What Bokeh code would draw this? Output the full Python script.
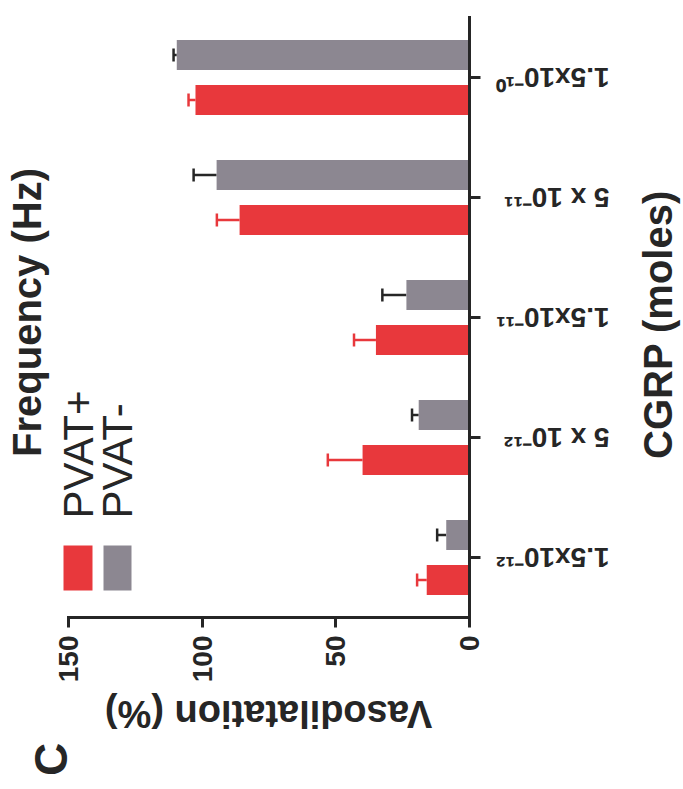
import math
from bokeh.plotting import figure
from bokeh.models import (Range1d, FixedTicker, Label, Whisker, TeeHead, LinearAxis,
                          ColumnDataSource, BoxAnnotation)
from bokeh.transform import dodge
from bokeh.embed import file_html
from bokeh.resources import INLINE

# ---- data ----
categories = ["1.5x10⁻¹²", "5 x 10⁻¹²", "1.5x10⁻¹¹", "5 x 10⁻¹¹", "1.5x10⁻¹⁰"]
pvat_plus = [16.0, 40.0, 35.0, 86.0, 102.5]
pvat_plus_err = [3.6, 13.0, 8.2, 8.5, 2.6]
pvat_minus = [8.7, 19.0, 23.6, 94.6, 109.5]
pvat_minus_err = [3.4, 2.5, 9.0, 8.6, 1.2]
x_ticks = [0, 50, 100, 150]
series_names = ["PVAT+", "PVAT-"]

RED = "#e8383c"
GRAY = "#8c8791"
INK = "#262626"
FONT = "Liberation Sans"

W, H = 683, 789
n = len(categories)
pos = [i + 0.5 for i in range(n)]          # category slots on the y scale

src = ColumnDataSource(dict(
    pos=pos,
    plus=pvat_plus,
    plus_hi=[v + e for v, e in zip(pvat_plus, pvat_plus_err)],
    minus=pvat_minus,
    minus_hi=[v + e for v, e in zip(pvat_minus, pvat_minus_err)],
))

# frame = whole canvas; value axis 150 -> px 68, 0 -> px 469 ; categories 120 px each
kx = (469 - 68) / 150.0
x_start = 150 + 68 / kx
x_end = -(W - 469) / kx
y_start = -(H - 617) / 120.0
y_end = n + 17 / 120.0

p = figure(width=W, height=H, output_backend="svg", toolbar_location=None,
           x_range=Range1d(x_start, x_end), y_range=Range1d(y_start, y_end),
           x_axis_location=None, y_axis_location=None,
           min_border=0, min_border_left=0, min_border_right=0,
           min_border_top=0, min_border_bottom=0)
p.outline_line_color = None
p.xgrid.visible = False
p.ygrid.visible = False
p.background_fill_color = "white"

off = 0.1875
bh = 0.25
p.hbar(y=dodge("pos", -off), left=0, right="plus", height=bh,
       source=src, fill_color=RED, line_color=None)
p.hbar(y=dodge("pos", off), left=0, right="minus", height=bh,
       source=src, fill_color=GRAY, line_color=None)

w1 = Whisker(base=dodge("pos", -off), lower="plus", upper="plus_hi",
             dimension="width", source=src, line_color=RED, line_width=2.5,
             lower_head=None, upper_head=TeeHead(size=13, line_color=RED, line_width=2.5))
w2 = Whisker(base=dodge("pos", off), lower="minus", upper="minus_hi",
             dimension="width", source=src, line_color=INK, line_width=2.5,
             lower_head=None, upper_head=TeeHead(size=13, line_color=INK, line_width=2.5))
p.add_layout(w1)
p.add_layout(w2)

xa = LinearAxis(fixed_location=0, bounds=(0, 150), ticker=FixedTicker(ticks=x_ticks))
ya = LinearAxis(fixed_location=0, bounds=(0, n), ticker=FixedTicker(ticks=pos),
                major_label_overrides={pv: c for pv, c in zip(pos, categories)})
p.add_layout(xa, "below")
p.add_layout(ya, "right")

for ax in (xa, ya):
    ax.axis_line_width = 3
    ax.axis_line_color = INK
    ax.axis_line_cap = "square"
    ax.major_tick_line_width = 3
    ax.major_tick_line_color = INK
    ax.major_tick_in = 0
    ax.minor_tick_line_color = None
    ax.major_label_text_font = FONT
    ax.major_label_text_font_style = "bold"
    ax.major_label_text_color = INK

xa.major_tick_out = 10
xa.major_label_standoff = 8
xa.major_label_orientation = math.pi / 2
xa.major_label_text_font_size = "28px"

ya.major_tick_out = 11
ya.major_label_standoff = 129
ya.major_label_orientation = math.pi
ya.major_label_text_font_size = "28px"


def lab(text, x, y, angle, size, bold=True, align="center"):
    p.add_layout(Label(x=x, y=H - y, x_units="screen", y_units="screen", text=text,
                       angle=angle, text_align=align, text_baseline="middle",
                       text_font=FONT, text_font_size=size,
                       text_font_style="bold" if bold else "normal", text_color=INK))


lab("Vasodilatation (%)", 268, 713, math.pi, "38px")
lab("CGRP (moles)", 657, 324, math.pi / 2, "40px")
lab("Frequency (Hz)", 26, 312, math.pi / 2, "40px")
lab(series_names[0], 78, 518, math.pi / 2, "42px", bold=False, align="left")
lab(series_names[1], 117, 518, math.pi / 2, "42px", bold=False, align="left")
lab("C", 50, 759, math.pi / 2, "46px")


def swatch(x0, x1, y0, y1, color):
    p.add_layout(BoxAnnotation(left=x0, right=x1, bottom=H - y1, top=H - y0,
                               left_units="screen", right_units="screen",
                               bottom_units="screen", top_units="screen",
                               fill_color=color, fill_alpha=1, line_color=None))


swatch(63, 92, 545, 590, RED)
swatch(103, 131, 545, 590, GRAY)

open("out.html", "w").write(file_html(p, INLINE))
